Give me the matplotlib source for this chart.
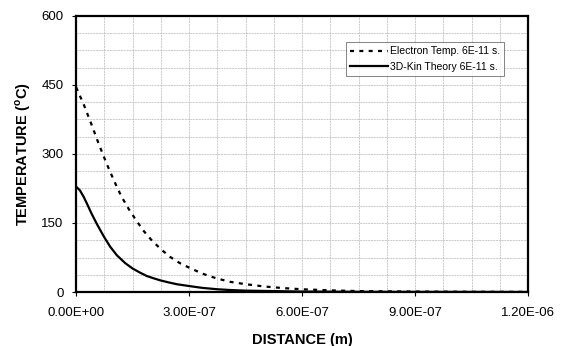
import numpy as np
import matplotlib
matplotlib.use('Agg')
import matplotlib.pyplot as plt

plt.rcParams['font.family'] = ['Liberation Sans', 'DejaVu Sans']

# distance (m) and temperature (C)
x_elec = [0, 2e-8, 4e-8, 6e-8, 8e-8, 1e-7, 1.2e-7, 1.4e-7, 1.6e-7, 1.8e-7,
          2e-7, 2.25e-7, 2.5e-7, 2.75e-7, 3e-7, 3.35e-7, 3.75e-7, 4.1e-7,
          4.5e-7, 5e-7, 5.5e-7, 6e-7, 6.75e-7, 7.5e-7, 9e-7, 1.05e-6, 1.2e-6]
t_elec = [445, 408, 366, 322, 281, 243, 208, 180, 155, 132,
          113, 93, 76, 63, 53, 40, 29, 22,
          17, 12, 8.5, 6, 3.6, 2, 1, 0.5, 0.3]

x_kin = [0, 1e-8, 2e-8, 3e-8, 4e-8, 5.5e-8, 7.4e-8, 9e-8, 1.08e-7, 1.3e-7,
         1.5e-7, 1.7e-7, 1.87e-7, 2.05e-7, 2.25e-7, 2.45e-7, 2.67e-7, 3e-7,
         3.35e-7, 3.75e-7, 4.1e-7, 4.5e-7, 5.25e-7, 6e-7, 7.5e-7, 9e-7,
         1.05e-6, 1.2e-6]
t_kin = [229, 221, 207, 190, 172, 148, 120, 99, 80, 63,
         51, 42, 35, 30, 25, 21, 17, 13,
         9, 6, 4.3, 3, 2, 1, 0.5, 0.3,
         0.2, 0.1]

xticks = [0, 3e-7, 6e-7, 9e-7, 1.2e-6]
xtick_labels = ['0.00E+00', '3.00E-07', '6.00E-07', '9.00E-07', '1.20E-06']
yticks = [0, 150, 300, 450, 600]

fig = plt.figure(figsize=(5.68, 3.46), dpi=100)
ax = fig.add_axes([0.134, 0.156, 0.796, 0.798])

ax.plot(x_elec, t_elec, color='black', lw=1.6, linestyle=(0, (1.8, 2.4)),
        label='Electron Temp. 6E-11 s.')
ax.plot(x_kin, t_kin, color='black', lw=1.6, label='3D-Kin Theory 6E-11 s.')

ax.set_xlim(0, 1.2e-6)
ax.set_ylim(0, 600)
ax.set_xticks(xticks)
ax.set_xticklabels(xtick_labels)
ax.set_yticks(yticks)
ax.set_xticks(np.arange(0, 1.2e-6 + 1e-9, 7.5e-8), minor=True)
ax.set_yticks(np.arange(0, 601, 37.5), minor=True)
ax.tick_params(which='minor', length=0)
ax.tick_params(which='major', direction='out', length=3, width=0.8,
               labelsize=9.5)
ax.tick_params(axis='x', pad=8)
ax.tick_params(axis='y', pad=6)
ax.grid(which='both', color='0.72', lw=0.5, linestyle=(0, (3, 1)))
ax.set_axisbelow(True)
for s in ax.spines.values():
    s.set_linewidth(1.6)

ax.set_xlabel('DISTANCE (m)', fontsize=10.5, fontweight='bold', labelpad=10)
ax.set_ylabel('TEMPERATURE ($^{\\mathregular{o}}$C)', fontsize=10.5,
              fontweight='bold', labelpad=6)

leg = ax.legend(loc='upper right', bbox_to_anchor=(0.947, 0.905), fontsize=7.5,
                frameon=True, fancybox=False, handlelength=3.6,
                handletextpad=0.2, borderpad=0.4, labelspacing=0.5,
                borderaxespad=0)
leg.get_frame().set_edgecolor('0.3')
leg.get_frame().set_linewidth(0.6)

fig.savefig('out.png', dpi=100)
